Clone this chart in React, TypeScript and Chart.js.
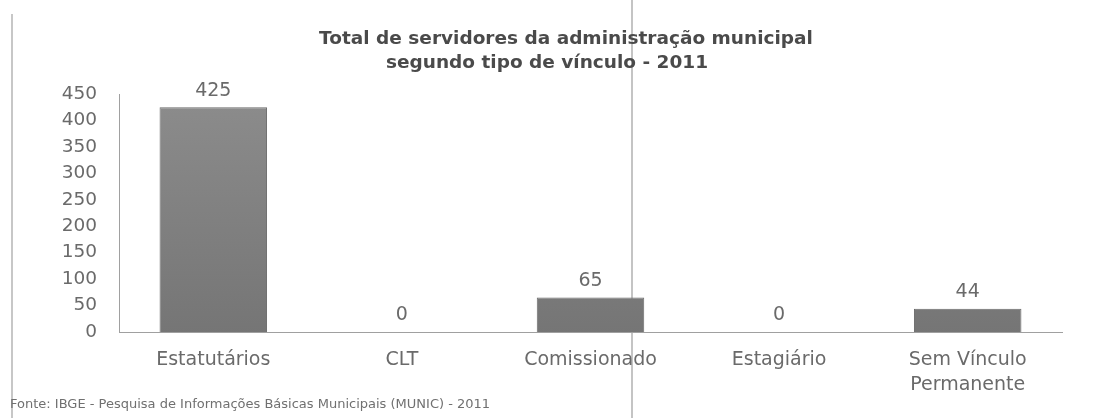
import React, { useEffect, useRef } from "react";
import { Chart, registerables } from "chart.js";

Chart.register(...registerables);

const categories: (string | string[])[] = [
  "Estatutários",
  "CLT",
  "Comissionado",
  "Estagiário",
  ["Sem Vínculo", "Permanente"],
];
const servidores = [425, 0, 65, 0, 44];
const titleLines = [
  "Total de servidores da administração municipal",
  "segundo tipo de vínculo - 2011",
];
const sourceText =
  "Fonte: IBGE - Pesquisa de Informações Básicas Municipais (MUNIC) - 2011";
const yMax = 450;
const yStep = 50;

const FONT = "'DejaVu Sans', sans-serif";

const extrasPlugin = {
  id: "extras",
  beforeDraw(chart: any) {
    const ctx = chart.ctx;
    ctx.save();
    ctx.fillStyle = "#ffffff";
    ctx.fillRect(0, 0, chart.width, chart.height);
    // scan edge lines
    ctx.strokeStyle = "#b5b5b5";
    ctx.lineWidth = 1.5;
    ctx.beginPath();
    ctx.moveTo(12, 14);
    ctx.lineTo(12, chart.height);
    ctx.stroke();
    ctx.strokeStyle = "#c4c4c4";
    ctx.lineWidth = 2;
    ctx.beginPath();
    ctx.moveTo(632, 0);
    ctx.lineTo(632, chart.height);
    ctx.stroke();
    ctx.restore();
  },
  afterDatasetsDraw(chart: any) {
    const ctx = chart.ctx;
    const meta = chart.getDatasetMeta(0);
    const data = chart.data.datasets[0].data;
    ctx.save();
    // title
    ctx.font = `bold 18.5px ${FONT}`;
    ctx.fillStyle = "#4a4a4a";
    ctx.textAlign = "center";
    ctx.textBaseline = "middle";
    ctx.fillText(titleLines[0], 566, 39);
    ctx.fillText(titleLines[1], 547, 63);
    // value labels
    ctx.font = `19px ${FONT}`;
    ctx.fillStyle = "#6a6a6a";
    ctx.textBaseline = "bottom";
    meta.data.forEach((bar: any, i: number) => {
      ctx.fillText(String(data[i]), bar.x, bar.y - 7);
    });
    // source
    ctx.font = `13px ${FONT}`;
    ctx.fillStyle = "#707070";
    ctx.textAlign = "left";
    ctx.textBaseline = "middle";
    ctx.fillText(sourceText, 10, 405);
    ctx.restore();
  },
};

export default function App() {
  const ref = useRef<HTMLCanvasElement>(null);
  useEffect(() => {
    const canvas = ref.current!;
    const ctx = canvas.getContext("2d")!;
    const grad = ctx.createLinearGradient(0, 95, 0, 335);
    grad.addColorStop(0, "#8c8c8c");
    grad.addColorStop(1, "#757575");
    const chart = new Chart(canvas, {
      type: "bar",
      data: {
        labels: categories,
        datasets: [
          {
            data: servidores,
            backgroundColor: grad,
            borderColor: "#6a6a6a",
            borderWidth: 1,
            categoryPercentage: 1,
            barPercentage: 0.57,
          },
        ],
      },
      options: {
        responsive: false,
        animation: false,
        layout: { padding: { left: 0, right: 39, top: 94, bottom: 0 } },
        plugins: {
          legend: { display: false },
          tooltip: { enabled: false },
          title: { display: false },
        },
        scales: {
          x: {
            grid: { display: false },
            border: { display: true, color: "#a0a0a0", width: 1 },
            ticks: {
              color: "#6a6a6a",
              font: { family: FONT, size: 19, lineHeight: 1.35 },
              padding: 7,
              maxRotation: 0,
              autoSkip: false,
            },
            afterFit(scale: any) {
              scale.height = 86;
            },
          },
          y: {
            min: 0,
            max: yMax,
            grid: { display: false },
            border: { display: true, color: "#a0a0a0", width: 1 },
            ticks: {
              stepSize: yStep,
              color: "#6a6a6a",
              font: { family: FONT, size: 18.5 },
              padding: 14,
            },
            afterFit(scale: any) {
              scale.width = 119;
            },
          },
        },
      },
      plugins: [extrasPlugin],
    });
    return () => chart.destroy();
  }, []);
  return (
    <div style={{ position: "fixed", left: 0, top: 0 }}>
      <canvas ref={ref} width={1101} height={418} />
    </div>
  );
}
